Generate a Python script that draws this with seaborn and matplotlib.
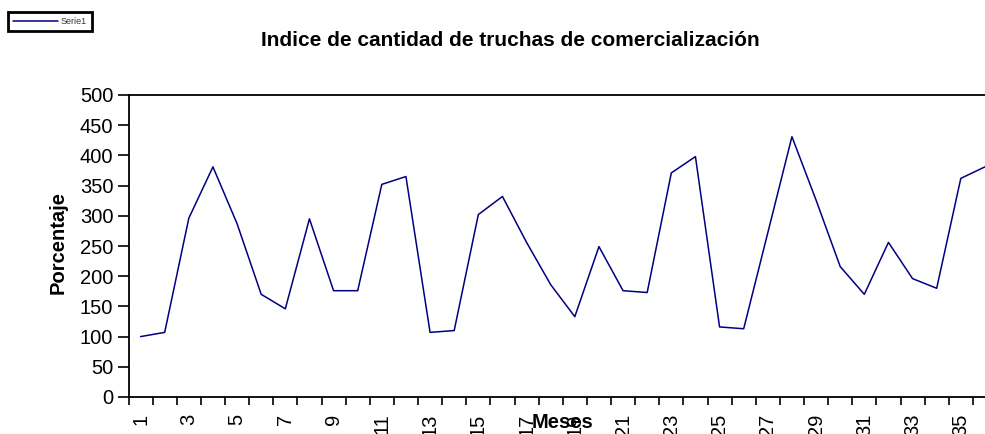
import matplotlib
matplotlib.use("Agg")
import matplotlib.pyplot as plt
import seaborn as sns
import pandas as pd

# ── Data ─────────────────────────────────────────────────────────────────────
meses = list(range(1, 37))
porcentaje = [100, 107, 296, 381, 287, 170, 146, 295, 176, 176,
              352, 365, 107, 110, 302, 332, 256, 186, 133, 249,
              176, 173, 371, 398, 116, 113, 272, 431, 326, 216,
              170, 256, 196, 180, 362, 381]
yticks = [0, 50, 100, 150, 200, 250, 300, 350, 400, 450, 500]
serie = "Serie1"

titulo = "Indice de cantidad de truchas de comercialización"
xlab = "Meses"
ylab = "Porcentaje"

df = pd.DataFrame({"Meses": meses, "Porcentaje": porcentaje})

sns.set_style("white")
plt.rcParams["font.family"] = ["Liberation Sans", "DejaVu Sans"]
plt.rcParams["text.color"] = "black"
plt.rcParams["xtick.color"] = "black"
plt.rcParams["ytick.color"] = "black"
plt.rcParams["axes.labelcolor"] = "black"

W, H = 985, 434
fig = plt.figure(figsize=(W / 100, H / 100), dpi=100)
# axes runs past the right edge of the image, as in the reference
left, right, top, bottom = 128.5, 997, 95, 397
ax = fig.add_axes([left / W, 1 - bottom / H, (right - left) / W, (bottom - top) / H])

sns.lineplot(data=df, x="Meses", y="Porcentaje", ax=ax, color="#000080",
             linewidth=1.1, label=serie)

ax.set_xlim(0.5, 36.5)
ax.set_ylim(0, 500)
ax.set_yticks(yticks)
ax.set_yticklabels([str(v) for v in yticks], fontsize=14.5)

# category labels at centres (odd months only), tick marks at boundaries
ax.set_xticks(meses)
ax.set_xticklabels([str(m) if m % 2 == 1 else "" for m in meses],
                   rotation=90, fontsize=14.5, va="top")
ax.set_xticks([m + 0.5 for m in range(0, 37)], minor=True)
ax.tick_params(axis="x", which="major", length=0, pad=12)
ax.tick_params(axis="x", which="minor", length=6, width=1.2, direction="out",
               color="black", bottom=True)
ax.tick_params(axis="y", length=8, width=1.2, direction="out", color="black",
               left=True, pad=3)

for s in ax.spines.values():
    s.set_color("black")
    s.set_linewidth(1.3)

ax.set_xlabel(xlab, fontsize=14.5, fontweight="bold")
ax.xaxis.set_label_coords(0.5, (bottom - 422) / (bottom - top))
ax.xaxis.label.set_va("center")
ax.set_ylabel(ylab, fontsize=14.5, fontweight="bold")
ax.yaxis.set_label_coords((58 - left) / (right - left), 0.51)
ax.yaxis.label.set_va("center")

fig.text(510 / W, 1 - 40 / H, titulo, ha="center", va="center",
         fontsize=15, fontweight="bold")

handles, labels = ax.get_legend_handles_labels()
ax.get_legend().remove()
leg = fig.legend(handles, labels, loc="upper left",
                 bbox_to_anchor=(8 / W, 1 - 12 / H), borderaxespad=0,
                 fontsize=6.5, handlelength=5.0, handletextpad=0.3,
                 borderpad=0.55, fancybox=False, framealpha=1)
leg.get_frame().set_edgecolor("black")
leg.get_frame().set_linewidth(2)
for t in leg.get_texts():
    t.set_color("#333333")

fig.savefig("out.png", dpi=100)
